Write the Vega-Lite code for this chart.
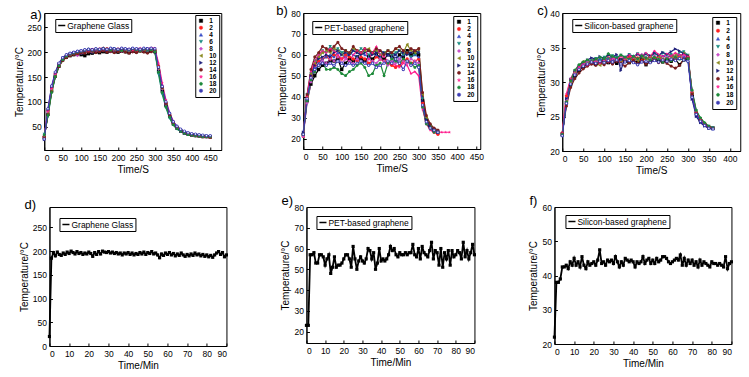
{
"$schema":"https://vega.github.io/schema/vega-lite/v6.json",
"background":"white",
"padding":{"left":13,"top":4,"right":2,"bottom":2},
"config":{
"font":"Liberation Sans",
"view":{"stroke":"black","strokeWidth":1},
"axis":{"grid":false,"domainColor":"black","tickColor":"black","tickSize":-3,"labelPadding":6,"labelFontSize":8.5,"labelColor":"black","titleFontSize":10,"titleFontWeight":"normal","titleColor":"black","labelOverlap":false,"titlePadding":3},
"legend":{"strokeColor":"black","fillColor":"white","labelColor":"black"},
"title":{"fontSize":13,"fontWeight":"normal","anchor":"start","color":"black","frame":"group"}
},
"datasets":{
"a":[
{"s":1,"t":0,"v":28},{"s":1,"t":10,"v":75},{"s":1,"t":20,"v":122},{"s":1,"t":30,"v":152},{"s":1,"t":40,"v":172},{"s":1,"t":50,"v":185},{"s":1,"t":60,"v":190},{"s":1,"t":70,"v":193},{"s":1,"t":80,"v":195},{"s":1,"t":90,"v":196},{"s":1,"t":100,"v":195},{"s":1,"t":110,"v":193},{"s":1,"t":120,"v":197},{"s":1,"t":130,"v":198},{"s":1,"t":140,"v":200},{"s":1,"t":150,"v":199},{"s":1,"t":160,"v":201},{"s":1,"t":170,"v":200},{"s":1,"t":180,"v":202},{"s":1,"t":190,"v":201},{"s":1,"t":200,"v":200},{"s":1,"t":210,"v":202},{"s":1,"t":220,"v":201},{"s":1,"t":230,"v":199},{"s":1,"t":240,"v":202},{"s":1,"t":250,"v":201},{"s":1,"t":260,"v":203},{"s":1,"t":270,"v":202},{"s":1,"t":280,"v":201},{"s":1,"t":290,"v":203},{"s":1,"t":300,"v":201},{"s":1,"t":310,"v":162},{"s":1,"t":320,"v":122},{"s":1,"t":330,"v":93},{"s":1,"t":340,"v":71},{"s":1,"t":350,"v":56},{"s":1,"t":360,"v":47},{"s":1,"t":370,"v":41},{"s":1,"t":380,"v":37},{"s":1,"t":390,"v":35},{"s":1,"t":400,"v":33},{"s":1,"t":410,"v":32},{"s":1,"t":420,"v":31},{"s":1,"t":430,"v":30},{"s":1,"t":440,"v":30},{"s":1,"t":450,"v":29},
{"s":2,"t":0,"v":30},{"s":2,"t":10,"v":82},{"s":2,"t":20,"v":128},{"s":2,"t":30,"v":157},{"s":2,"t":40,"v":176},{"s":2,"t":50,"v":187},{"s":2,"t":60,"v":193},{"s":2,"t":70,"v":196},{"s":2,"t":80,"v":199},{"s":2,"t":90,"v":197},{"s":2,"t":100,"v":201},{"s":2,"t":110,"v":203},{"s":2,"t":120,"v":202},{"s":2,"t":130,"v":205},{"s":2,"t":140,"v":203},{"s":2,"t":150,"v":206},{"s":2,"t":160,"v":204},{"s":2,"t":170,"v":207},{"s":2,"t":180,"v":203},{"s":2,"t":190,"v":205},{"s":2,"t":200,"v":206},{"s":2,"t":210,"v":203},{"s":2,"t":220,"v":205},{"s":2,"t":230,"v":204},{"s":2,"t":240,"v":206},{"s":2,"t":250,"v":203},{"s":2,"t":260,"v":205},{"s":2,"t":270,"v":204},{"s":2,"t":280,"v":206},{"s":2,"t":290,"v":207},{"s":2,"t":300,"v":205},{"s":2,"t":310,"v":172},{"s":2,"t":320,"v":130},{"s":2,"t":330,"v":98},{"s":2,"t":340,"v":74},{"s":2,"t":350,"v":58},{"s":2,"t":360,"v":48},{"s":2,"t":370,"v":42},{"s":2,"t":380,"v":38},{"s":2,"t":390,"v":35},{"s":2,"t":400,"v":33},{"s":2,"t":410,"v":32},{"s":2,"t":420,"v":31},{"s":2,"t":430,"v":30},{"s":2,"t":440,"v":30},{"s":2,"t":450,"v":29},
{"s":4,"t":0,"v":26},{"s":4,"t":10,"v":78},{"s":4,"t":20,"v":124},{"s":4,"t":30,"v":154},{"s":4,"t":40,"v":174},{"s":4,"t":50,"v":186},{"s":4,"t":60,"v":192},{"s":4,"t":70,"v":196},{"s":4,"t":80,"v":198},{"s":4,"t":90,"v":200},{"s":4,"t":100,"v":199},{"s":4,"t":110,"v":202},{"s":4,"t":120,"v":203},{"s":4,"t":130,"v":201},{"s":4,"t":140,"v":204},{"s":4,"t":150,"v":203},{"s":4,"t":160,"v":205},{"s":4,"t":170,"v":204},{"s":4,"t":180,"v":206},{"s":4,"t":190,"v":203},{"s":4,"t":200,"v":205},{"s":4,"t":210,"v":204},{"s":4,"t":220,"v":203},{"s":4,"t":230,"v":205},{"s":4,"t":240,"v":204},{"s":4,"t":250,"v":206},{"s":4,"t":260,"v":204},{"s":4,"t":270,"v":205},{"s":4,"t":280,"v":203},{"s":4,"t":290,"v":206},{"s":4,"t":300,"v":204},{"s":4,"t":310,"v":163},{"s":4,"t":320,"v":121},{"s":4,"t":330,"v":92},{"s":4,"t":340,"v":70},{"s":4,"t":350,"v":55},{"s":4,"t":360,"v":46},{"s":4,"t":370,"v":41},{"s":4,"t":380,"v":37},{"s":4,"t":390,"v":35},{"s":4,"t":400,"v":33},{"s":4,"t":410,"v":32},{"s":4,"t":420,"v":31},{"s":4,"t":430,"v":31},{"s":4,"t":440,"v":30},{"s":4,"t":450,"v":30},
{"s":6,"t":0,"v":35},{"s":6,"t":10,"v":70},{"s":6,"t":20,"v":118},{"s":6,"t":30,"v":150},{"s":6,"t":40,"v":172},{"s":6,"t":50,"v":184},{"s":6,"t":60,"v":191},{"s":6,"t":70,"v":195},{"s":6,"t":80,"v":197},{"s":6,"t":90,"v":199},{"s":6,"t":100,"v":200},{"s":6,"t":110,"v":201},{"s":6,"t":120,"v":203},{"s":6,"t":130,"v":202},{"s":6,"t":140,"v":204},{"s":6,"t":150,"v":202},{"s":6,"t":160,"v":205},{"s":6,"t":170,"v":203},{"s":6,"t":180,"v":204},{"s":6,"t":190,"v":206},{"s":6,"t":200,"v":203},{"s":6,"t":210,"v":205},{"s":6,"t":220,"v":204},{"s":6,"t":230,"v":202},{"s":6,"t":240,"v":205},{"s":6,"t":250,"v":203},{"s":6,"t":260,"v":204},{"s":6,"t":270,"v":206},{"s":6,"t":280,"v":203},{"s":6,"t":290,"v":205},{"s":6,"t":300,"v":200},{"s":6,"t":310,"v":155},{"s":6,"t":320,"v":115},{"s":6,"t":330,"v":88},{"s":6,"t":340,"v":67},{"s":6,"t":350,"v":53},{"s":6,"t":360,"v":45},{"s":6,"t":370,"v":40},{"s":6,"t":380,"v":36},{"s":6,"t":390,"v":34},{"s":6,"t":400,"v":32},{"s":6,"t":410,"v":31},{"s":6,"t":420,"v":30},{"s":6,"t":430,"v":30},{"s":6,"t":440,"v":29},{"s":6,"t":450,"v":29},
{"s":8,"t":0,"v":32},{"s":8,"t":10,"v":79},{"s":8,"t":20,"v":125},{"s":8,"t":30,"v":155},{"s":8,"t":40,"v":175},{"s":8,"t":50,"v":186},{"s":8,"t":60,"v":191},{"s":8,"t":70,"v":194},{"s":8,"t":80,"v":196},{"s":8,"t":90,"v":193},{"s":8,"t":100,"v":198},{"s":8,"t":110,"v":200},{"s":8,"t":120,"v":202},{"s":8,"t":130,"v":201},{"s":8,"t":140,"v":203},{"s":8,"t":150,"v":202},{"s":8,"t":160,"v":204},{"s":8,"t":170,"v":203},{"s":8,"t":180,"v":201},{"s":8,"t":190,"v":204},{"s":8,"t":200,"v":203},{"s":8,"t":210,"v":202},{"s":8,"t":220,"v":204},{"s":8,"t":230,"v":203},{"s":8,"t":240,"v":201},{"s":8,"t":250,"v":204},{"s":8,"t":260,"v":203},{"s":8,"t":270,"v":202},{"s":8,"t":280,"v":204},{"s":8,"t":290,"v":203},{"s":8,"t":300,"v":202},{"s":8,"t":310,"v":166},{"s":8,"t":320,"v":126},{"s":8,"t":330,"v":95},{"s":8,"t":340,"v":72},{"s":8,"t":350,"v":57},{"s":8,"t":360,"v":47},{"s":8,"t":370,"v":42},{"s":8,"t":380,"v":38},{"s":8,"t":390,"v":35},{"s":8,"t":400,"v":33},{"s":8,"t":410,"v":32},{"s":8,"t":420,"v":31},{"s":8,"t":430,"v":30},{"s":8,"t":440,"v":30},{"s":8,"t":450,"v":30},
{"s":10,"t":0,"v":27},{"s":10,"t":10,"v":77},{"s":10,"t":20,"v":123},{"s":10,"t":30,"v":153},{"s":10,"t":40,"v":174},{"s":10,"t":50,"v":185},{"s":10,"t":60,"v":192},{"s":10,"t":70,"v":195},{"s":10,"t":80,"v":197},{"s":10,"t":90,"v":199},{"s":10,"t":100,"v":201},{"s":10,"t":110,"v":203},{"s":10,"t":120,"v":204},{"s":10,"t":130,"v":202},{"s":10,"t":140,"v":205},{"s":10,"t":150,"v":204},{"s":10,"t":160,"v":206},{"s":10,"t":170,"v":205},{"s":10,"t":180,"v":203},{"s":10,"t":190,"v":205},{"s":10,"t":200,"v":204},{"s":10,"t":210,"v":206},{"s":10,"t":220,"v":203},{"s":10,"t":230,"v":205},{"s":10,"t":240,"v":204},{"s":10,"t":250,"v":206},{"s":10,"t":260,"v":205},{"s":10,"t":270,"v":203},{"s":10,"t":280,"v":205},{"s":10,"t":290,"v":204},{"s":10,"t":300,"v":203},{"s":10,"t":310,"v":167},{"s":10,"t":320,"v":127},{"s":10,"t":330,"v":96},{"s":10,"t":340,"v":73},{"s":10,"t":350,"v":57},{"s":10,"t":360,"v":48},{"s":10,"t":370,"v":42},{"s":10,"t":380,"v":38},{"s":10,"t":390,"v":36},{"s":10,"t":400,"v":34},{"s":10,"t":410,"v":32},{"s":10,"t":420,"v":31},{"s":10,"t":430,"v":31},{"s":10,"t":440,"v":30},{"s":10,"t":450,"v":30},
{"s":12,"t":0,"v":24},{"s":12,"t":10,"v":84},{"s":12,"t":20,"v":130},{"s":12,"t":30,"v":158},{"s":12,"t":40,"v":177},{"s":12,"t":50,"v":188},{"s":12,"t":60,"v":193},{"s":12,"t":70,"v":197},{"s":12,"t":80,"v":199},{"s":12,"t":90,"v":201},{"s":12,"t":100,"v":202},{"s":12,"t":110,"v":201},{"s":12,"t":120,"v":204},{"s":12,"t":130,"v":205},{"s":12,"t":140,"v":203},{"s":12,"t":150,"v":205},{"s":12,"t":160,"v":206},{"s":12,"t":170,"v":204},{"s":12,"t":180,"v":205},{"s":12,"t":190,"v":207},{"s":12,"t":200,"v":205},{"s":12,"t":210,"v":204},{"s":12,"t":220,"v":206},{"s":12,"t":230,"v":205},{"s":12,"t":240,"v":207},{"s":12,"t":250,"v":205},{"s":12,"t":260,"v":206},{"s":12,"t":270,"v":205},{"s":12,"t":280,"v":207},{"s":12,"t":290,"v":206},{"s":12,"t":300,"v":205},{"s":12,"t":310,"v":168},{"s":12,"t":320,"v":128},{"s":12,"t":330,"v":97},{"s":12,"t":340,"v":74},{"s":12,"t":350,"v":58},{"s":12,"t":360,"v":49},{"s":12,"t":370,"v":43},{"s":12,"t":380,"v":39},{"s":12,"t":390,"v":36},{"s":12,"t":400,"v":34},{"s":12,"t":410,"v":33},{"s":12,"t":420,"v":32},{"s":12,"t":430,"v":31},{"s":12,"t":440,"v":31},{"s":12,"t":450,"v":30},
{"s":14,"t":0,"v":29},{"s":14,"t":10,"v":74},{"s":14,"t":20,"v":120},{"s":14,"t":30,"v":151},{"s":14,"t":40,"v":171},{"s":14,"t":50,"v":183},{"s":14,"t":60,"v":189},{"s":14,"t":70,"v":193},{"s":14,"t":80,"v":195},{"s":14,"t":90,"v":197},{"s":14,"t":100,"v":199},{"s":14,"t":110,"v":198},{"s":14,"t":120,"v":200},{"s":14,"t":130,"v":202},{"s":14,"t":140,"v":199},{"s":14,"t":150,"v":201},{"s":14,"t":160,"v":203},{"s":14,"t":170,"v":200},{"s":14,"t":180,"v":202},{"s":14,"t":190,"v":199},{"s":14,"t":200,"v":201},{"s":14,"t":210,"v":203},{"s":14,"t":220,"v":200},{"s":14,"t":230,"v":198},{"s":14,"t":240,"v":201},{"s":14,"t":250,"v":199},{"s":14,"t":260,"v":202},{"s":14,"t":270,"v":200},{"s":14,"t":280,"v":198},{"s":14,"t":290,"v":201},{"s":14,"t":300,"v":202},{"s":14,"t":310,"v":170},{"s":14,"t":320,"v":129},{"s":14,"t":330,"v":97},{"s":14,"t":340,"v":73},{"s":14,"t":350,"v":57},{"s":14,"t":360,"v":48},{"s":14,"t":370,"v":42},{"s":14,"t":380,"v":38},{"s":14,"t":390,"v":35},{"s":14,"t":400,"v":33},{"s":14,"t":410,"v":32},{"s":14,"t":420,"v":31},{"s":14,"t":430,"v":30},{"s":14,"t":440,"v":30},{"s":14,"t":450,"v":29},
{"s":16,"t":0,"v":31},{"s":16,"t":10,"v":81},{"s":16,"t":20,"v":127},{"s":16,"t":30,"v":156},{"s":16,"t":40,"v":176},{"s":16,"t":50,"v":186},{"s":16,"t":60,"v":192},{"s":16,"t":70,"v":195},{"s":16,"t":80,"v":198},{"s":16,"t":90,"v":200},{"s":16,"t":100,"v":202},{"s":16,"t":110,"v":204},{"s":16,"t":120,"v":203},{"s":16,"t":130,"v":206},{"s":16,"t":140,"v":204},{"s":16,"t":150,"v":207},{"s":16,"t":160,"v":209},{"s":16,"t":170,"v":205},{"s":16,"t":180,"v":207},{"s":16,"t":190,"v":204},{"s":16,"t":200,"v":206},{"s":16,"t":210,"v":208},{"s":16,"t":220,"v":205},{"s":16,"t":230,"v":207},{"s":16,"t":240,"v":204},{"s":16,"t":250,"v":206},{"s":16,"t":260,"v":208},{"s":16,"t":270,"v":205},{"s":16,"t":280,"v":207},{"s":16,"t":290,"v":209},{"s":16,"t":300,"v":208},{"s":16,"t":310,"v":178},{"s":16,"t":320,"v":138},{"s":16,"t":330,"v":104},{"s":16,"t":340,"v":78},{"s":16,"t":350,"v":61},{"s":16,"t":360,"v":50},{"s":16,"t":370,"v":44},{"s":16,"t":380,"v":39},{"s":16,"t":390,"v":36},{"s":16,"t":400,"v":34},{"s":16,"t":410,"v":32},{"s":16,"t":420,"v":31},{"s":16,"t":430,"v":30},{"s":16,"t":440,"v":29},{"s":16,"t":450,"v":29},
{"s":18,"t":0,"v":33},{"s":18,"t":10,"v":73},{"s":18,"t":20,"v":119},{"s":18,"t":30,"v":151},{"s":18,"t":40,"v":173},{"s":18,"t":50,"v":185},{"s":18,"t":60,"v":192},{"s":18,"t":70,"v":196},{"s":18,"t":80,"v":198},{"s":18,"t":90,"v":200},{"s":18,"t":100,"v":202},{"s":18,"t":110,"v":204},{"s":18,"t":120,"v":206},{"s":18,"t":130,"v":204},{"s":18,"t":140,"v":206},{"s":18,"t":150,"v":205},{"s":18,"t":160,"v":208},{"s":18,"t":170,"v":206},{"s":18,"t":180,"v":204},{"s":18,"t":190,"v":206},{"s":18,"t":200,"v":205},{"s":18,"t":210,"v":203},{"s":18,"t":220,"v":206},{"s":18,"t":230,"v":204},{"s":18,"t":240,"v":207},{"s":18,"t":250,"v":205},{"s":18,"t":260,"v":203},{"s":18,"t":270,"v":206},{"s":18,"t":280,"v":204},{"s":18,"t":290,"v":205},{"s":18,"t":300,"v":201},{"s":18,"t":310,"v":160},{"s":18,"t":320,"v":119},{"s":18,"t":330,"v":90},{"s":18,"t":340,"v":69},{"s":18,"t":350,"v":54},{"s":18,"t":360,"v":46},{"s":18,"t":370,"v":41},{"s":18,"t":380,"v":37},{"s":18,"t":390,"v":34},{"s":18,"t":400,"v":33},{"s":18,"t":410,"v":32},{"s":18,"t":420,"v":31},{"s":18,"t":430,"v":30},{"s":18,"t":440,"v":30},{"s":18,"t":450,"v":30},
{"s":20,"t":0,"v":25},{"s":20,"t":10,"v":86},{"s":20,"t":20,"v":132},{"s":20,"t":30,"v":160},{"s":20,"t":40,"v":178},{"s":20,"t":50,"v":189},{"s":20,"t":60,"v":195},{"s":20,"t":70,"v":198},{"s":20,"t":80,"v":200},{"s":20,"t":90,"v":202},{"s":20,"t":100,"v":203},{"s":20,"t":110,"v":205},{"s":20,"t":120,"v":206},{"s":20,"t":130,"v":205},{"s":20,"t":140,"v":207},{"s":20,"t":150,"v":206},{"s":20,"t":160,"v":207},{"s":20,"t":170,"v":206},{"s":20,"t":180,"v":208},{"s":20,"t":190,"v":207},{"s":20,"t":200,"v":206},{"s":20,"t":210,"v":208},{"s":20,"t":220,"v":207},{"s":20,"t":230,"v":206},{"s":20,"t":240,"v":208},{"s":20,"t":250,"v":207},{"s":20,"t":260,"v":206},{"s":20,"t":270,"v":208},{"s":20,"t":280,"v":207},{"s":20,"t":290,"v":208},{"s":20,"t":300,"v":207},{"s":20,"t":310,"v":170},{"s":20,"t":320,"v":131},{"s":20,"t":330,"v":100},{"s":20,"t":340,"v":77},{"s":20,"t":350,"v":60},{"s":20,"t":360,"v":51},{"s":20,"t":370,"v":45},{"s":20,"t":380,"v":41},{"s":20,"t":390,"v":38},{"s":20,"t":400,"v":36},{"s":20,"t":410,"v":35},{"s":20,"t":420,"v":34},{"s":20,"t":430,"v":33},{"s":20,"t":440,"v":32},{"s":20,"t":450,"v":32}
],
"b":[
{"s":1,"t":0,"v":22},{"s":1,"t":10,"v":38},{"s":1,"t":20,"v":46},{"s":1,"t":30,"v":50},{"s":1,"t":40,"v":53},{"s":1,"t":50,"v":55},{"s":1,"t":60,"v":56},{"s":1,"t":70,"v":57},{"s":1,"t":80,"v":57},{"s":1,"t":90,"v":58},{"s":1,"t":100,"v":53},{"s":1,"t":110,"v":56},{"s":1,"t":120,"v":58},{"s":1,"t":130,"v":57},{"s":1,"t":140,"v":59},{"s":1,"t":150,"v":58},{"s":1,"t":160,"v":57},{"s":1,"t":170,"v":59},{"s":1,"t":180,"v":58},{"s":1,"t":190,"v":60},{"s":1,"t":200,"v":59},{"s":1,"t":210,"v":58},{"s":1,"t":220,"v":60},{"s":1,"t":230,"v":59},{"s":1,"t":240,"v":58},{"s":1,"t":250,"v":60},{"s":1,"t":260,"v":59},{"s":1,"t":270,"v":62},{"s":1,"t":280,"v":60},{"s":1,"t":290,"v":61},{"s":1,"t":300,"v":60},{"s":1,"t":310,"v":38},{"s":1,"t":320,"v":29},{"s":1,"t":330,"v":26},{"s":1,"t":340,"v":24},{"s":1,"t":350,"v":23},
{"s":2,"t":0,"v":21},{"s":2,"t":10,"v":40},{"s":2,"t":20,"v":50},{"s":2,"t":30,"v":55},{"s":2,"t":40,"v":57},{"s":2,"t":50,"v":58},{"s":2,"t":60,"v":59},{"s":2,"t":70,"v":58},{"s":2,"t":80,"v":60},{"s":2,"t":90,"v":59},{"s":2,"t":100,"v":58},{"s":2,"t":110,"v":60},{"s":2,"t":120,"v":59},{"s":2,"t":130,"v":58},{"s":2,"t":140,"v":57},{"s":2,"t":150,"v":59},{"s":2,"t":160,"v":58},{"s":2,"t":170,"v":56},{"s":2,"t":180,"v":57},{"s":2,"t":190,"v":59},{"s":2,"t":200,"v":58},{"s":2,"t":210,"v":57},{"s":2,"t":220,"v":56},{"s":2,"t":230,"v":55},{"s":2,"t":240,"v":54},{"s":2,"t":250,"v":55},{"s":2,"t":260,"v":57},{"s":2,"t":270,"v":58},{"s":2,"t":280,"v":56},{"s":2,"t":290,"v":57},{"s":2,"t":300,"v":58},{"s":2,"t":310,"v":37},{"s":2,"t":320,"v":28},{"s":2,"t":330,"v":25},{"s":2,"t":340,"v":23},{"s":2,"t":350,"v":22},
{"s":4,"t":0,"v":23},{"s":4,"t":10,"v":39},{"s":4,"t":20,"v":49},{"s":4,"t":30,"v":54},{"s":4,"t":40,"v":56},{"s":4,"t":50,"v":58},{"s":4,"t":60,"v":59},{"s":4,"t":70,"v":60},{"s":4,"t":80,"v":59},{"s":4,"t":90,"v":61},{"s":4,"t":100,"v":60},{"s":4,"t":110,"v":59},{"s":4,"t":120,"v":61},{"s":4,"t":130,"v":60},{"s":4,"t":140,"v":59},{"s":4,"t":150,"v":61},{"s":4,"t":160,"v":60},{"s":4,"t":170,"v":59},{"s":4,"t":180,"v":61},{"s":4,"t":190,"v":60},{"s":4,"t":200,"v":59},{"s":4,"t":210,"v":61},{"s":4,"t":220,"v":60},{"s":4,"t":230,"v":59},{"s":4,"t":240,"v":60},{"s":4,"t":250,"v":58},{"s":4,"t":260,"v":60},{"s":4,"t":270,"v":61},{"s":4,"t":280,"v":59},{"s":4,"t":290,"v":60},{"s":4,"t":300,"v":59},{"s":4,"t":310,"v":36},{"s":4,"t":320,"v":28},{"s":4,"t":330,"v":25},{"s":4,"t":340,"v":24},{"s":4,"t":350,"v":23},
{"s":6,"t":0,"v":22},{"s":6,"t":10,"v":41},{"s":6,"t":20,"v":51},{"s":6,"t":30,"v":57},{"s":6,"t":40,"v":60},{"s":6,"t":50,"v":62},{"s":6,"t":60,"v":61},{"s":6,"t":70,"v":64},{"s":6,"t":80,"v":62},{"s":6,"t":90,"v":63},{"s":6,"t":100,"v":61},{"s":6,"t":110,"v":62},{"s":6,"t":120,"v":60},{"s":6,"t":130,"v":62},{"s":6,"t":140,"v":61},{"s":6,"t":150,"v":63},{"s":6,"t":160,"v":62},{"s":6,"t":170,"v":60},{"s":6,"t":180,"v":61},{"s":6,"t":190,"v":62},{"s":6,"t":200,"v":60},{"s":6,"t":210,"v":61},{"s":6,"t":220,"v":62},{"s":6,"t":230,"v":60},{"s":6,"t":240,"v":61},{"s":6,"t":250,"v":62},{"s":6,"t":260,"v":60},{"s":6,"t":270,"v":61},{"s":6,"t":280,"v":59},{"s":6,"t":290,"v":60},{"s":6,"t":300,"v":61},{"s":6,"t":310,"v":39},{"s":6,"t":320,"v":29},{"s":6,"t":330,"v":26},{"s":6,"t":340,"v":24},{"s":6,"t":350,"v":23},
{"s":8,"t":0,"v":21},{"s":8,"t":10,"v":37},{"s":8,"t":20,"v":47},{"s":8,"t":30,"v":52},{"s":8,"t":40,"v":55},{"s":8,"t":50,"v":57},{"s":8,"t":60,"v":56},{"s":8,"t":70,"v":58},{"s":8,"t":80,"v":57},{"s":8,"t":90,"v":59},{"s":8,"t":100,"v":56},{"s":8,"t":110,"v":58},{"s":8,"t":120,"v":57},{"s":8,"t":130,"v":56},{"s":8,"t":140,"v":58},{"s":8,"t":150,"v":57},{"s":8,"t":160,"v":56},{"s":8,"t":170,"v":58},{"s":8,"t":180,"v":57},{"s":8,"t":190,"v":56},{"s":8,"t":200,"v":58},{"s":8,"t":210,"v":57},{"s":8,"t":220,"v":55},{"s":8,"t":230,"v":57},{"s":8,"t":240,"v":56},{"s":8,"t":250,"v":58},{"s":8,"t":260,"v":57},{"s":8,"t":270,"v":56},{"s":8,"t":280,"v":58},{"s":8,"t":290,"v":57},{"s":8,"t":300,"v":56},{"s":8,"t":310,"v":35},{"s":8,"t":320,"v":27},{"s":8,"t":330,"v":25},{"s":8,"t":340,"v":23},{"s":8,"t":350,"v":23},
{"s":10,"t":0,"v":22},{"s":10,"t":10,"v":40},{"s":10,"t":20,"v":51},{"s":10,"t":30,"v":56},{"s":10,"t":40,"v":59},{"s":10,"t":50,"v":61},{"s":10,"t":60,"v":62},{"s":10,"t":70,"v":61},{"s":10,"t":80,"v":63},{"s":10,"t":90,"v":62},{"s":10,"t":100,"v":60},{"s":10,"t":110,"v":62},{"s":10,"t":120,"v":61},{"s":10,"t":130,"v":63},{"s":10,"t":140,"v":62},{"s":10,"t":150,"v":61},{"s":10,"t":160,"v":62},{"s":10,"t":170,"v":63},{"s":10,"t":180,"v":61},{"s":10,"t":190,"v":62},{"s":10,"t":200,"v":60},{"s":10,"t":210,"v":61},{"s":10,"t":220,"v":62},{"s":10,"t":230,"v":61},{"s":10,"t":240,"v":63},{"s":10,"t":250,"v":62},{"s":10,"t":260,"v":61},{"s":10,"t":270,"v":65},{"s":10,"t":280,"v":62},{"s":10,"t":290,"v":61},{"s":10,"t":300,"v":63},{"s":10,"t":310,"v":41},{"s":10,"t":320,"v":30},{"s":10,"t":330,"v":26},{"s":10,"t":340,"v":24},{"s":10,"t":350,"v":23},
{"s":12,"t":0,"v":23},{"s":12,"t":10,"v":39},{"s":12,"t":20,"v":50},{"s":12,"t":30,"v":55},{"s":12,"t":40,"v":58},{"s":12,"t":50,"v":59},{"s":12,"t":60,"v":60},{"s":12,"t":70,"v":59},{"s":12,"t":80,"v":61},{"s":12,"t":90,"v":62},{"s":12,"t":100,"v":60},{"s":12,"t":110,"v":61},{"s":12,"t":120,"v":60},{"s":12,"t":130,"v":62},{"s":12,"t":140,"v":61},{"s":12,"t":150,"v":60},{"s":12,"t":160,"v":61},{"s":12,"t":170,"v":62},{"s":12,"t":180,"v":60},{"s":12,"t":190,"v":61},{"s":12,"t":200,"v":62},{"s":12,"t":210,"v":61},{"s":12,"t":220,"v":60},{"s":12,"t":230,"v":61},{"s":12,"t":240,"v":60},{"s":12,"t":250,"v":62},{"s":12,"t":260,"v":61},{"s":12,"t":270,"v":60},{"s":12,"t":280,"v":61},{"s":12,"t":290,"v":62},{"s":12,"t":300,"v":61},{"s":12,"t":310,"v":38},{"s":12,"t":320,"v":29},{"s":12,"t":330,"v":26},{"s":12,"t":340,"v":24},{"s":12,"t":350,"v":23},
{"s":14,"t":0,"v":22},{"s":14,"t":10,"v":41},{"s":14,"t":20,"v":53},{"s":14,"t":30,"v":59},{"s":14,"t":40,"v":61},{"s":14,"t":50,"v":64},{"s":14,"t":60,"v":63},{"s":14,"t":70,"v":62},{"s":14,"t":80,"v":64},{"s":14,"t":90,"v":66},{"s":14,"t":100,"v":63},{"s":14,"t":110,"v":62},{"s":14,"t":120,"v":61},{"s":14,"t":130,"v":64},{"s":14,"t":140,"v":62},{"s":14,"t":150,"v":61},{"s":14,"t":160,"v":63},{"s":14,"t":170,"v":62},{"s":14,"t":180,"v":61},{"s":14,"t":190,"v":63},{"s":14,"t":200,"v":62},{"s":14,"t":210,"v":60},{"s":14,"t":220,"v":62},{"s":14,"t":230,"v":61},{"s":14,"t":240,"v":63},{"s":14,"t":250,"v":64},{"s":14,"t":260,"v":62},{"s":14,"t":270,"v":61},{"s":14,"t":280,"v":63},{"s":14,"t":290,"v":62},{"s":14,"t":300,"v":63},{"s":14,"t":310,"v":42},{"s":14,"t":320,"v":31},{"s":14,"t":330,"v":27},{"s":14,"t":340,"v":25},{"s":14,"t":350,"v":24},
{"s":16,"t":0,"v":22},{"s":16,"t":10,"v":40},{"s":16,"t":20,"v":52},{"s":16,"t":30,"v":57},{"s":16,"t":40,"v":60},{"s":16,"t":50,"v":62},{"s":16,"t":60,"v":61},{"s":16,"t":70,"v":63},{"s":16,"t":80,"v":62},{"s":16,"t":90,"v":60},{"s":16,"t":100,"v":58},{"s":16,"t":110,"v":59},{"s":16,"t":120,"v":57},{"s":16,"t":130,"v":60},{"s":16,"t":140,"v":62},{"s":16,"t":150,"v":61},{"s":16,"t":160,"v":63},{"s":16,"t":170,"v":58},{"s":16,"t":180,"v":61},{"s":16,"t":190,"v":64},{"s":16,"t":200,"v":60},{"s":16,"t":210,"v":59},{"s":16,"t":220,"v":57},{"s":16,"t":230,"v":56},{"s":16,"t":240,"v":55},{"s":16,"t":250,"v":54},{"s":16,"t":260,"v":56},{"s":16,"t":270,"v":55},{"s":16,"t":280,"v":51},{"s":16,"t":290,"v":52},{"s":16,"t":300,"v":50},{"s":16,"t":310,"v":34},{"s":16,"t":320,"v":27},{"s":16,"t":330,"v":24},{"s":16,"t":340,"v":23},{"s":16,"t":350,"v":23},{"s":16,"t":360,"v":23},{"s":16,"t":370,"v":23},{"s":16,"t":380,"v":23},
{"s":18,"t":0,"v":22},{"s":18,"t":10,"v":38},{"s":18,"t":20,"v":48},{"s":18,"t":30,"v":52},{"s":18,"t":40,"v":55},{"s":18,"t":50,"v":56},{"s":18,"t":60,"v":53},{"s":18,"t":70,"v":53},{"s":18,"t":80,"v":54},{"s":18,"t":90,"v":53},{"s":18,"t":100,"v":51},{"s":18,"t":110,"v":50},{"s":18,"t":120,"v":52},{"s":18,"t":130,"v":53},{"s":18,"t":140,"v":55},{"s":18,"t":150,"v":56},{"s":18,"t":160,"v":54},{"s":18,"t":170,"v":50},{"s":18,"t":180,"v":51},{"s":18,"t":190,"v":55},{"s":18,"t":200,"v":56},{"s":18,"t":210,"v":50},{"s":18,"t":220,"v":56},{"s":18,"t":230,"v":58},{"s":18,"t":240,"v":57},{"s":18,"t":250,"v":56},{"s":18,"t":260,"v":58},{"s":18,"t":270,"v":57},{"s":18,"t":280,"v":56},{"s":18,"t":290,"v":54},{"s":18,"t":300,"v":55},{"s":18,"t":310,"v":35},{"s":18,"t":320,"v":27},{"s":18,"t":330,"v":25},{"s":18,"t":340,"v":23},{"s":18,"t":350,"v":23},
{"s":20,"t":0,"v":22},{"s":20,"t":10,"v":39},{"s":20,"t":20,"v":49},{"s":20,"t":30,"v":53},{"s":20,"t":40,"v":55},{"s":20,"t":50,"v":56},{"s":20,"t":60,"v":55},{"s":20,"t":70,"v":56},{"s":20,"t":80,"v":55},{"s":20,"t":90,"v":57},{"s":20,"t":100,"v":56},{"s":20,"t":110,"v":55},{"s":20,"t":120,"v":56},{"s":20,"t":130,"v":55},{"s":20,"t":140,"v":56},{"s":20,"t":150,"v":57},{"s":20,"t":160,"v":56},{"s":20,"t":170,"v":55},{"s":20,"t":180,"v":56},{"s":20,"t":190,"v":54},{"s":20,"t":200,"v":55},{"s":20,"t":210,"v":56},{"s":20,"t":220,"v":57},{"s":20,"t":230,"v":56},{"s":20,"t":240,"v":58},{"s":20,"t":250,"v":56},{"s":20,"t":260,"v":53},{"s":20,"t":270,"v":57},{"s":20,"t":280,"v":55},{"s":20,"t":290,"v":56},{"s":20,"t":300,"v":54},{"s":20,"t":310,"v":36},{"s":20,"t":320,"v":28},{"s":20,"t":330,"v":25},{"s":20,"t":340,"v":24},{"s":20,"t":350,"v":23}
],
"c":[
{"s":1,"t":0,"v":22.4},{"s":1,"t":10,"v":27.0},{"s":1,"t":20,"v":29.6},{"s":1,"t":30,"v":30.9},{"s":1,"t":40,"v":31.7},{"s":1,"t":50,"v":32.2},{"s":1,"t":60,"v":32.5},{"s":1,"t":70,"v":32.8},{"s":1,"t":80,"v":32.6},{"s":1,"t":90,"v":32.9},{"s":1,"t":100,"v":33.1},{"s":1,"t":110,"v":32.8},{"s":1,"t":120,"v":33.0},{"s":1,"t":130,"v":32.7},{"s":1,"t":140,"v":33.2},{"s":1,"t":150,"v":33.0},{"s":1,"t":160,"v":32.8},{"s":1,"t":170,"v":33.1},{"s":1,"t":180,"v":32.9},{"s":1,"t":190,"v":33.2},{"s":1,"t":200,"v":32.5},{"s":1,"t":210,"v":33.0},{"s":1,"t":220,"v":33.3},{"s":1,"t":230,"v":33.1},{"s":1,"t":240,"v":32.9},{"s":1,"t":250,"v":33.2},{"s":1,"t":260,"v":33.0},{"s":1,"t":270,"v":33.3},{"s":1,"t":280,"v":32.5},{"s":1,"t":290,"v":33.2},{"s":1,"t":300,"v":33.4},{"s":1,"t":310,"v":28.1},{"s":1,"t":320,"v":25.4},{"s":1,"t":330,"v":24.4},{"s":1,"t":340,"v":23.8},{"s":1,"t":350,"v":23.4},{"s":1,"t":360,"v":23.3},
{"s":2,"t":0,"v":22.6},{"s":2,"t":10,"v":28.0},{"s":2,"t":20,"v":30.3},{"s":2,"t":30,"v":31.4},{"s":2,"t":40,"v":32.0},{"s":2,"t":50,"v":32.4},{"s":2,"t":60,"v":32.8},{"s":2,"t":70,"v":33.0},{"s":2,"t":80,"v":33.3},{"s":2,"t":90,"v":32.9},{"s":2,"t":100,"v":33.2},{"s":2,"t":110,"v":33.5},{"s":2,"t":120,"v":33.1},{"s":2,"t":130,"v":33.4},{"s":2,"t":140,"v":33.0},{"s":2,"t":150,"v":33.3},{"s":2,"t":160,"v":33.6},{"s":2,"t":170,"v":33.2},{"s":2,"t":180,"v":33.5},{"s":2,"t":190,"v":33.1},{"s":2,"t":200,"v":33.4},{"s":2,"t":210,"v":33.7},{"s":2,"t":220,"v":33.3},{"s":2,"t":230,"v":33.6},{"s":2,"t":240,"v":33.2},{"s":2,"t":250,"v":33.5},{"s":2,"t":260,"v":33.8},{"s":2,"t":270,"v":33.4},{"s":2,"t":280,"v":33.7},{"s":2,"t":290,"v":33.5},{"s":2,"t":300,"v":33.6},{"s":2,"t":310,"v":28.5},{"s":2,"t":320,"v":25.6},{"s":2,"t":330,"v":24.5},{"s":2,"t":340,"v":23.9},{"s":2,"t":350,"v":23.5},{"s":2,"t":360,"v":23.3},
{"s":4,"t":0,"v":22.3},{"s":4,"t":10,"v":27.3},{"s":4,"t":20,"v":29.9},{"s":4,"t":30,"v":31.2},{"s":4,"t":40,"v":32.1},{"s":4,"t":50,"v":32.5},{"s":4,"t":60,"v":32.9},{"s":4,"t":70,"v":33.2},{"s":4,"t":80,"v":33.0},{"s":4,"t":90,"v":33.4},{"s":4,"t":100,"v":33.1},{"s":4,"t":110,"v":33.5},{"s":4,"t":120,"v":33.3},{"s":4,"t":130,"v":33.7},{"s":4,"t":140,"v":33.2},{"s":4,"t":150,"v":33.6},{"s":4,"t":160,"v":33.4},{"s":4,"t":170,"v":33.8},{"s":4,"t":180,"v":33.3},{"s":4,"t":190,"v":33.7},{"s":4,"t":200,"v":33.5},{"s":4,"t":210,"v":33.2},{"s":4,"t":220,"v":33.6},{"s":4,"t":230,"v":33.4},{"s":4,"t":240,"v":33.8},{"s":4,"t":250,"v":33.5},{"s":4,"t":260,"v":33.9},{"s":4,"t":270,"v":33.6},{"s":4,"t":280,"v":34.0},{"s":4,"t":290,"v":33.7},{"s":4,"t":300,"v":33.5},{"s":4,"t":310,"v":27.9},{"s":4,"t":320,"v":25.2},{"s":4,"t":330,"v":24.3},{"s":4,"t":340,"v":23.7},{"s":4,"t":350,"v":23.4},{"s":4,"t":360,"v":23.2},
{"s":6,"t":0,"v":22.5},{"s":6,"t":10,"v":26.8},{"s":6,"t":20,"v":29.5},{"s":6,"t":30,"v":31.0},{"s":6,"t":40,"v":31.9},{"s":6,"t":50,"v":32.4},{"s":6,"t":60,"v":32.7},{"s":6,"t":70,"v":33.1},{"s":6,"t":80,"v":33.4},{"s":6,"t":90,"v":33.0},{"s":6,"t":100,"v":33.6},{"s":6,"t":110,"v":33.3},{"s":6,"t":120,"v":33.8},{"s":6,"t":130,"v":33.5},{"s":6,"t":140,"v":33.9},{"s":6,"t":150,"v":33.6},{"s":6,"t":160,"v":34.0},{"s":6,"t":170,"v":33.7},{"s":6,"t":180,"v":34.1},{"s":6,"t":190,"v":33.8},{"s":6,"t":200,"v":34.0},{"s":6,"t":210,"v":33.6},{"s":6,"t":220,"v":34.1},{"s":6,"t":230,"v":33.8},{"s":6,"t":240,"v":34.2},{"s":6,"t":250,"v":33.9},{"s":6,"t":260,"v":34.0},{"s":6,"t":270,"v":33.7},{"s":6,"t":280,"v":34.3},{"s":6,"t":290,"v":34.4},{"s":6,"t":300,"v":33.9},{"s":6,"t":310,"v":28.6},{"s":6,"t":320,"v":25.8},{"s":6,"t":330,"v":24.7},{"s":6,"t":340,"v":24.0},{"s":6,"t":350,"v":23.6},{"s":6,"t":360,"v":23.4},
{"s":8,"t":0,"v":22.4},{"s":8,"t":10,"v":27.5},{"s":8,"t":20,"v":30.1},{"s":8,"t":30,"v":31.3},{"s":8,"t":40,"v":32.0},{"s":8,"t":50,"v":32.6},{"s":8,"t":60,"v":32.9},{"s":8,"t":70,"v":32.6},{"s":8,"t":80,"v":33.0},{"s":8,"t":90,"v":32.7},{"s":8,"t":100,"v":33.2},{"s":8,"t":110,"v":32.9},{"s":8,"t":120,"v":33.4},{"s":8,"t":130,"v":33.1},{"s":8,"t":140,"v":32.8},{"s":8,"t":150,"v":33.3},{"s":8,"t":160,"v":33.0},{"s":8,"t":170,"v":33.5},{"s":8,"t":180,"v":33.2},{"s":8,"t":190,"v":34.0},{"s":8,"t":200,"v":33.6},{"s":8,"t":210,"v":33.3},{"s":8,"t":220,"v":33.8},{"s":8,"t":230,"v":33.4},{"s":8,"t":240,"v":33.1},{"s":8,"t":250,"v":33.6},{"s":8,"t":260,"v":33.3},{"s":8,"t":270,"v":33.8},{"s":8,"t":280,"v":33.5},{"s":8,"t":290,"v":33.9},{"s":8,"t":300,"v":33.6},{"s":8,"t":310,"v":28.2},{"s":8,"t":320,"v":25.5},{"s":8,"t":330,"v":24.4},{"s":8,"t":340,"v":23.8},{"s":8,"t":350,"v":23.4},{"s":8,"t":360,"v":23.3},
{"s":10,"t":0,"v":22.5},{"s":10,"t":10,"v":27.2},{"s":10,"t":20,"v":30.0},{"s":10,"t":30,"v":31.5},{"s":10,"t":40,"v":32.4},{"s":10,"t":50,"v":33.0},{"s":10,"t":60,"v":32.7},{"s":10,"t":70,"v":33.1},{"s":10,"t":80,"v":32.8},{"s":10,"t":90,"v":32.4},{"s":10,"t":100,"v":32.9},{"s":10,"t":110,"v":33.2},{"s":10,"t":120,"v":32.8},{"s":10,"t":130,"v":33.3},{"s":10,"t":140,"v":32.9},{"s":10,"t":150,"v":33.4},{"s":10,"t":160,"v":33.0},{"s":10,"t":170,"v":33.5},{"s":10,"t":180,"v":33.1},{"s":10,"t":190,"v":33.6},{"s":10,"t":200,"v":33.2},{"s":10,"t":210,"v":33.7},{"s":10,"t":220,"v":33.3},{"s":10,"t":230,"v":33.8},{"s":10,"t":240,"v":33.4},{"s":10,"t":250,"v":33.0},{"s":10,"t":260,"v":33.5},{"s":10,"t":270,"v":33.9},{"s":10,"t":280,"v":33.6},{"s":10,"t":290,"v":34.2},{"s":10,"t":300,"v":33.8},{"s":10,"t":310,"v":28.4},{"s":10,"t":320,"v":25.6},{"s":10,"t":330,"v":24.6},{"s":10,"t":340,"v":23.9},{"s":10,"t":350,"v":23.5},{"s":10,"t":360,"v":23.3},
{"s":12,"t":0,"v":22.3},{"s":12,"t":10,"v":27.6},{"s":12,"t":20,"v":30.4},{"s":12,"t":30,"v":31.6},{"s":12,"t":40,"v":32.3},{"s":12,"t":50,"v":32.8},{"s":12,"t":60,"v":33.2},{"s":12,"t":70,"v":33.5},{"s":12,"t":80,"v":33.3},{"s":12,"t":90,"v":33.7},{"s":12,"t":100,"v":33.4},{"s":12,"t":110,"v":33.9},{"s":12,"t":120,"v":33.6},{"s":12,"t":130,"v":34.0},{"s":12,"t":140,"v":31.7},{"s":12,"t":150,"v":33.5},{"s":12,"t":160,"v":33.9},{"s":12,"t":170,"v":33.6},{"s":12,"t":180,"v":34.0},{"s":12,"t":190,"v":33.7},{"s":12,"t":200,"v":34.1},{"s":12,"t":210,"v":33.8},{"s":12,"t":220,"v":34.2},{"s":12,"t":230,"v":33.9},{"s":12,"t":240,"v":34.3},{"s":12,"t":250,"v":34.0},{"s":12,"t":260,"v":34.4},{"s":12,"t":270,"v":34.8},{"s":12,"t":280,"v":34.5},{"s":12,"t":290,"v":34.1},{"s":12,"t":300,"v":33.8},{"s":12,"t":310,"v":27.5},{"s":12,"t":320,"v":25.0},{"s":12,"t":330,"v":24.1},{"s":12,"t":340,"v":23.6},{"s":12,"t":350,"v":23.3},{"s":12,"t":360,"v":23.2},
{"s":14,"t":0,"v":22.6},{"s":14,"t":10,"v":26.5},{"s":14,"t":20,"v":29.2},{"s":14,"t":30,"v":30.5},{"s":14,"t":40,"v":31.3},{"s":14,"t":50,"v":31.9},{"s":14,"t":60,"v":32.3},{"s":14,"t":70,"v":32.6},{"s":14,"t":80,"v":32.4},{"s":14,"t":90,"v":32.8},{"s":14,"t":100,"v":32.5},{"s":14,"t":110,"v":32.9},{"s":14,"t":120,"v":32.6},{"s":14,"t":130,"v":33.0},{"s":14,"t":140,"v":32.7},{"s":14,"t":150,"v":32.3},{"s":14,"t":160,"v":32.8},{"s":14,"t":170,"v":33.1},{"s":14,"t":180,"v":32.7},{"s":14,"t":190,"v":33.0},{"s":14,"t":200,"v":32.6},{"s":14,"t":210,"v":32.9},{"s":14,"t":220,"v":33.2},{"s":14,"t":230,"v":32.8},{"s":14,"t":240,"v":33.1},{"s":14,"t":250,"v":32.7},{"s":14,"t":260,"v":32.3},{"s":14,"t":270,"v":32.0},{"s":14,"t":280,"v":32.4},{"s":14,"t":290,"v":33.3},{"s":14,"t":300,"v":33.6},{"s":14,"t":310,"v":28.3},{"s":14,"t":320,"v":25.5},{"s":14,"t":330,"v":24.5},{"s":14,"t":340,"v":23.9},{"s":14,"t":350,"v":23.5},{"s":14,"t":360,"v":23.3},
{"s":16,"t":0,"v":22.6},{"s":16,"t":10,"v":28.3},{"s":16,"t":20,"v":30.5},{"s":16,"t":30,"v":31.6},{"s":16,"t":40,"v":32.2},{"s":16,"t":50,"v":32.6},{"s":16,"t":60,"v":32.4},{"s":16,"t":70,"v":32.8},{"s":16,"t":80,"v":33.1},{"s":16,"t":90,"v":32.7},{"s":16,"t":100,"v":33.3},{"s":16,"t":110,"v":33.0},{"s":16,"t":120,"v":33.5},{"s":16,"t":130,"v":33.2},{"s":16,"t":140,"v":33.7},{"s":16,"t":150,"v":33.4},{"s":16,"t":160,"v":33.9},{"s":16,"t":170,"v":33.5},{"s":16,"t":180,"v":34.1},{"s":16,"t":190,"v":33.8},{"s":16,"t":200,"v":34.2},{"s":16,"t":210,"v":33.7},{"s":16,"t":220,"v":34.5},{"s":16,"t":230,"v":34.0},{"s":16,"t":240,"v":33.7},{"s":16,"t":250,"v":34.1},{"s":16,"t":260,"v":33.8},{"s":16,"t":270,"v":34.2},{"s":16,"t":280,"v":33.9},{"s":16,"t":290,"v":34.0},{"s":16,"t":300,"v":33.7},{"s":16,"t":310,"v":28.6},{"s":16,"t":320,"v":25.7},{"s":16,"t":330,"v":24.6},{"s":16,"t":340,"v":23.9},{"s":16,"t":350,"v":23.5},{"s":16,"t":360,"v":23.3},
{"s":18,"t":0,"v":22.4},{"s":18,"t":10,"v":27.1},{"s":18,"t":20,"v":30.2},{"s":18,"t":30,"v":31.7},{"s":18,"t":40,"v":32.5},{"s":18,"t":50,"v":32.9},{"s":18,"t":60,"v":33.2},{"s":18,"t":70,"v":32.9},{"s":18,"t":80,"v":33.3},{"s":18,"t":90,"v":33.6},{"s":18,"t":100,"v":33.4},{"s":18,"t":110,"v":34.1},{"s":18,"t":120,"v":33.7},{"s":18,"t":130,"v":33.5},{"s":18,"t":140,"v":33.9},{"s":18,"t":150,"v":33.6},{"s":18,"t":160,"v":33.3},{"s":18,"t":170,"v":33.7},{"s":18,"t":180,"v":33.4},{"s":18,"t":190,"v":33.8},{"s":18,"t":200,"v":33.5},{"s":18,"t":210,"v":33.2},{"s":18,"t":220,"v":33.6},{"s":18,"t":230,"v":33.3},{"s":18,"t":240,"v":32.9},{"s":18,"t":250,"v":33.4},{"s":18,"t":260,"v":33.1},{"s":18,"t":270,"v":33.6},{"s":18,"t":280,"v":33.3},{"s":18,"t":290,"v":33.2},{"s":18,"t":300,"v":33.4},{"s":18,"t":310,"v":28.8},{"s":18,"t":320,"v":25.9},{"s":18,"t":330,"v":24.8},{"s":18,"t":340,"v":24.1},{"s":18,"t":350,"v":23.6},{"s":18,"t":360,"v":23.3},
{"s":20,"t":0,"v":22.2},{"s":20,"t":10,"v":26.9},{"s":20,"t":20,"v":29.7},{"s":20,"t":30,"v":31.0},{"s":20,"t":40,"v":31.8},{"s":20,"t":50,"v":32.3},{"s":20,"t":60,"v":32.6},{"s":20,"t":70,"v":32.9},{"s":20,"t":80,"v":32.7},{"s":20,"t":90,"v":33.0},{"s":20,"t":100,"v":32.8},{"s":20,"t":110,"v":33.1},{"s":20,"t":120,"v":32.9},{"s":20,"t":130,"v":33.2},{"s":20,"t":140,"v":32.6},{"s":20,"t":150,"v":32.9},{"s":20,"t":160,"v":33.1},{"s":20,"t":170,"v":32.8},{"s":20,"t":180,"v":32.5},{"s":20,"t":190,"v":32.9},{"s":20,"t":200,"v":33.0},{"s":20,"t":210,"v":32.8},{"s":20,"t":220,"v":33.1},{"s":20,"t":230,"v":32.9},{"s":20,"t":240,"v":33.2},{"s":20,"t":250,"v":33.0},{"s":20,"t":260,"v":33.3},{"s":20,"t":270,"v":33.1},{"s":20,"t":280,"v":33.4},{"s":20,"t":290,"v":33.2},{"s":20,"t":300,"v":33.0},{"s":20,"t":310,"v":27.8},{"s":20,"t":320,"v":25.3},{"s":20,"t":330,"v":24.3},{"s":20,"t":340,"v":23.7},{"s":20,"t":350,"v":23.3},{"s":20,"t":360,"v":23.2}
],
"d":[
{"t":0,"v":20},{"t":1,"v":185},{"t":2,"v":197},{"t":3,"v":190},{"t":4,"v":198},{"t":5,"v":193},{"t":6,"v":191},{"t":7,"v":196},{"t":8,"v":193},{"t":9,"v":198},{"t":10,"v":195},{"t":11,"v":200},{"t":12,"v":197},{"t":13,"v":194},{"t":14,"v":199},{"t":15,"v":195},{"t":16,"v":197},{"t":17,"v":193},{"t":18,"v":196},{"t":19,"v":194},{"t":20,"v":198},{"t":21,"v":195},{"t":22,"v":189},{"t":23,"v":197},{"t":24,"v":193},{"t":25,"v":199},{"t":26,"v":194},{"t":27,"v":200},{"t":28,"v":198},{"t":29,"v":197},{"t":30,"v":199},{"t":31,"v":196},{"t":32,"v":198},{"t":33,"v":195},{"t":34,"v":197},{"t":35,"v":194},{"t":36,"v":196},{"t":37,"v":192},{"t":38,"v":196},{"t":39,"v":194},{"t":40,"v":197},{"t":41,"v":193},{"t":42,"v":196},{"t":43,"v":192},{"t":44,"v":195},{"t":45,"v":193},{"t":46,"v":197},{"t":47,"v":194},{"t":48,"v":198},{"t":49,"v":193},{"t":50,"v":197},{"t":51,"v":195},{"t":52,"v":199},{"t":53,"v":194},{"t":54,"v":196},{"t":55,"v":192},{"t":56,"v":186},{"t":57,"v":194},{"t":58,"v":191},{"t":59,"v":196},{"t":60,"v":193},{"t":61,"v":197},{"t":62,"v":192},{"t":63,"v":195},{"t":64,"v":190},{"t":65,"v":194},{"t":66,"v":191},{"t":67,"v":196},{"t":68,"v":192},{"t":69,"v":189},{"t":70,"v":193},{"t":71,"v":190},{"t":72,"v":194},{"t":73,"v":191},{"t":74,"v":196},{"t":75,"v":192},{"t":76,"v":194},{"t":77,"v":190},{"t":78,"v":193},{"t":79,"v":189},{"t":80,"v":192},{"t":81,"v":188},{"t":82,"v":191},{"t":83,"v":187},{"t":84,"v":192},{"t":85,"v":196},{"t":86,"v":199},{"t":87,"v":193},{"t":88,"v":197},{"t":89,"v":188},{"t":90,"v":192}
],
"e":[
{"t":0,"v":23},{"t":1,"v":23},{"t":2,"v":57},{"t":3,"v":57},{"t":4,"v":58},{"t":5,"v":53},{"t":6,"v":53},{"t":7,"v":57},{"t":8,"v":57},{"t":9,"v":56},{"t":10,"v":52},{"t":11,"v":55},{"t":12,"v":57},{"t":13,"v":48},{"t":14,"v":51},{"t":15,"v":56},{"t":16,"v":51},{"t":17,"v":52},{"t":18,"v":52},{"t":19,"v":53},{"t":20,"v":55},{"t":21,"v":57},{"t":22,"v":57},{"t":23,"v":55},{"t":24,"v":51},{"t":25,"v":61},{"t":26,"v":55},{"t":27,"v":50},{"t":28,"v":54},{"t":29,"v":56},{"t":30,"v":54},{"t":31,"v":53},{"t":32,"v":55},{"t":33,"v":60},{"t":34,"v":59},{"t":35,"v":55},{"t":36,"v":58},{"t":37,"v":50},{"t":38,"v":53},{"t":39,"v":60},{"t":40,"v":54},{"t":41,"v":55},{"t":42,"v":54},{"t":43,"v":55},{"t":44,"v":57},{"t":45,"v":61},{"t":46,"v":59},{"t":47,"v":60},{"t":48,"v":57},{"t":49,"v":56},{"t":50,"v":58},{"t":51,"v":57},{"t":52,"v":57},{"t":53,"v":58},{"t":54,"v":57},{"t":55,"v":58},{"t":56,"v":58},{"t":57,"v":62},{"t":58,"v":57},{"t":59,"v":56},{"t":60,"v":60},{"t":61,"v":55},{"t":62,"v":61},{"t":63,"v":58},{"t":64,"v":57},{"t":65,"v":56},{"t":66,"v":59},{"t":67,"v":63},{"t":68,"v":55},{"t":69,"v":59},{"t":70,"v":58},{"t":71,"v":52},{"t":72,"v":60},{"t":73,"v":51},{"t":74,"v":58},{"t":75,"v":55},{"t":76,"v":59},{"t":77,"v":52},{"t":78,"v":59},{"t":79,"v":56},{"t":80,"v":57},{"t":81,"v":59},{"t":82,"v":58},{"t":83,"v":55},{"t":84,"v":63},{"t":85,"v":56},{"t":86,"v":59},{"t":87,"v":55},{"t":88,"v":58},{"t":89,"v":62},{"t":90,"v":57}
],
"f":[
{"t":0,"v":22},{"t":1,"v":38},{"t":2,"v":38},{"t":3,"v":39},{"t":4,"v":42.5},{"t":5,"v":42.5},{"t":6,"v":43},{"t":7,"v":42},{"t":8,"v":44},{"t":9,"v":43},{"t":10,"v":45},{"t":11,"v":43},{"t":12,"v":44},{"t":13,"v":42.5},{"t":14,"v":45.5},{"t":15,"v":43},{"t":16,"v":42},{"t":17,"v":44},{"t":18,"v":43},{"t":19,"v":43.5},{"t":20,"v":44},{"t":21,"v":43},{"t":22,"v":44.5},{"t":23,"v":47.5},{"t":24,"v":43.5},{"t":25,"v":44},{"t":26,"v":43},{"t":27,"v":44.5},{"t":28,"v":44},{"t":29,"v":44.5},{"t":30,"v":43.5},{"t":31,"v":45.5},{"t":32,"v":44},{"t":33,"v":42.5},{"t":34,"v":44},{"t":35,"v":43},{"t":36,"v":45},{"t":37,"v":44.5},{"t":38,"v":44},{"t":39,"v":44.5},{"t":40,"v":44},{"t":41,"v":42.5},{"t":42,"v":44},{"t":43,"v":43.5},{"t":44,"v":44},{"t":45,"v":45.5},{"t":46,"v":43.5},{"t":47,"v":44.5},{"t":48,"v":45},{"t":49,"v":43.5},{"t":50,"v":44.5},{"t":51,"v":43.5},{"t":52,"v":45},{"t":53,"v":44},{"t":54,"v":44.5},{"t":55,"v":45.5},{"t":56,"v":45.5},{"t":57,"v":45},{"t":58,"v":44},{"t":59,"v":43.5},{"t":60,"v":44},{"t":61,"v":44.5},{"t":62,"v":45},{"t":63,"v":44.5},{"t":64,"v":46},{"t":65,"v":43},{"t":66,"v":45},{"t":67,"v":43},{"t":68,"v":44.5},{"t":69,"v":43.5},{"t":70,"v":44.5},{"t":71,"v":43},{"t":72,"v":44},{"t":73,"v":42.5},{"t":74,"v":44.5},{"t":75,"v":43},{"t":76,"v":44},{"t":77,"v":43.5},{"t":78,"v":43},{"t":79,"v":42.5},{"t":80,"v":44},{"t":81,"v":43.5},{"t":82,"v":43.5},{"t":83,"v":43},{"t":84,"v":43.5},{"t":85,"v":43},{"t":86,"v":42.5},{"t":87,"v":45.5},{"t":88,"v":42},{"t":89,"v":43.5},{"t":90,"v":44}
]
},
"center":true,
"spacing":18,
"resolve":{"scale":{"color":"independent","shape":"independent","stroke":"independent","strokeDash":"independent"},"legend":{"color":"independent","stroke":"independent","strokeDash":"independent"}},
"vconcat":[
{"hconcat":[
{"data":{"name":"a"},"width":177,"height":137,"title":{"text":"a)","dx":-14,"offset":-9},
"encoding":{"x":{"field":"t","type":"quantitative","scale":{"domain":[0,480],"nice":false},"axis":{"title":"Time/S","values":[0,50,100,150,200,250,300,350,400,450]}},"y":{"field":"v","type":"quantitative","scale":{"domain":[3,279],"nice":false,"zero":false},"axis":{"title":"Temperature/°C","values":[50,100,150,200,250]}}},
"layer":[
{"mark":{"type":"line","strokeWidth":1.2,"color":"black"},"encoding":{"stroke":{"field":"s","type":"nominal","scale":{"domain":[1,2,4,6,8,10,12,14,16,18,20],"range":["#000000","#FF2020","#3A4FC8","#1A8C80","#C84FC8","#8A8A20","#1E1E7A","#7A1E1E","#FF1A8C","#1E8A3A","#3C3CB4"]},"legend":{"orient":"top-right","offset":2,"title":null,"padding":2.5,"symbolSize":12,"symbolOpacity":1,"symbolStrokeWidth":0.4,"labelFontSize":6.5,"labelFontWeight":"bold","labelOffset":5,"rowPadding":0}},"strokeDash":{"datum":"Graphene Glass","type":"nominal","legend":{"orient":"none","legendX":11,"legendY":6,"title":null,"padding":2,"symbolType":"stroke","symbolStrokeColor":"black","symbolStrokeWidth":1.3,"symbolSize":50,"labelFontSize":8.5,"labelOffset":1}}}},
{"mark":{"type":"point","filled":true,"size":11,"opacity":1},"encoding":{"color":{"field":"s","type":"nominal","scale":{"domain":[1,2,4,6,8,10,12,14,16,18,20],"range":["#000000","#FF2020","#3A4FC8","#1A8C80","#C84FC8","#8A8A20","#1E1E7A","#7A1E1E","#FF1A8C","#1E8A3A","#3C3CB4"]},"legend":{"orient":"top-right","offset":2,"title":null,"padding":2.5,"symbolSize":12,"symbolOpacity":1,"symbolStrokeWidth":0.4,"labelFontSize":6.5,"labelFontWeight":"bold","labelOffset":5,"rowPadding":0}},"shape":{"field":"s","type":"nominal","scale":{"domain":[1,2,4,6,8,10,12,14,16,18,20],"range":["square","circle","triangle-up","triangle-down","diamond","triangle-left","triangle-right","M0,-1L0.87,-0.5L0.87,0.5L0,1L-0.87,0.5L-0.87,-0.5Z","M0,-1L0.22,-0.3L0.95,-0.3L0.36,0.12L0.59,0.81L0,0.38L-0.59,0.81L-0.36,0.12L-0.95,-0.3L-0.22,-0.3Z","M0,-1L0.95,-0.31L0.59,0.81L-0.59,0.81L-0.95,-0.31Z","circle"]},"legend":null}}},
{"transform":[{"filter":"datum.s==20"}],"mark":{"type":"point","filled":true,"size":2.5,"color":"white","opacity":1},"encoding":{}}
]},
{"data":{"name":"b"},"width":177,"height":136,"title":{"text":"b)","dx":-27,"offset":-9},
"encoding":{"x":{"field":"t","type":"quantitative","scale":{"domain":[0,460],"nice":false},"axis":{"title":"Time/S","values":[0,50,100,150,200,250,300,350,400,450]}},"y":{"field":"v","type":"quantitative","scale":{"domain":[15,80],"nice":false,"zero":false},"axis":{"title":"Temperature/°C","values":[20,30,40,50,60,70,80]}}},
"layer":[
{"mark":{"type":"line","strokeWidth":1.2,"color":"black"},"encoding":{"stroke":{"field":"s","type":"nominal","scale":{"domain":[1,2,4,6,8,10,12,14,16,18,20],"range":["#000000","#FF2020","#3A4FC8","#1A8C80","#C84FC8","#8A8A20","#1E1E7A","#7A1E1E","#FF1A8C","#1E8A3A","#3C3CB4"]},"legend":{"orient":"top-right","offset":3,"title":null,"padding":2.5,"symbolSize":12,"symbolOpacity":1,"symbolStrokeWidth":0.4,"labelFontSize":6.5,"labelFontWeight":"bold","labelOffset":5,"rowPadding":0.3}},"strokeDash":{"datum":"PET-based graphene","type":"nominal","legend":{"orient":"none","legendX":9,"legendY":8,"title":null,"padding":2,"symbolType":"stroke","symbolStrokeColor":"black","symbolStrokeWidth":1.3,"symbolSize":50,"labelFontSize":8.5,"labelOffset":1}}}},
{"mark":{"type":"point","filled":true,"size":11,"opacity":1},"encoding":{"color":{"field":"s","type":"nominal","scale":{"domain":[1,2,4,6,8,10,12,14,16,18,20],"range":["#000000","#FF2020","#3A4FC8","#1A8C80","#C84FC8","#8A8A20","#1E1E7A","#7A1E1E","#FF1A8C","#1E8A3A","#3C3CB4"]},"legend":{"orient":"top-right","offset":3,"title":null,"padding":2.5,"symbolSize":12,"symbolOpacity":1,"symbolStrokeWidth":0.4,"labelFontSize":6.5,"labelFontWeight":"bold","labelOffset":5,"rowPadding":0.3}},"shape":{"field":"s","type":"nominal","scale":{"domain":[1,2,4,6,8,10,12,14,16,18,20],"range":["square","circle","triangle-up","triangle-down","diamond","triangle-left","triangle-right","M0,-1L0.87,-0.5L0.87,0.5L0,1L-0.87,0.5L-0.87,-0.5Z","M0,-1L0.22,-0.3L0.95,-0.3L0.36,0.12L0.59,0.81L0,0.38L-0.59,0.81L-0.36,0.12L-0.95,-0.3L-0.22,-0.3Z","M0,-1L0.95,-0.31L0.59,0.81L-0.59,0.81L-0.95,-0.31Z","circle"]},"legend":null}}},
{"transform":[{"filter":"datum.s==20"}],"mark":{"type":"point","filled":true,"size":2.5,"color":"white","opacity":1},"encoding":{}}
]},
{"data":{"name":"c"},"width":178,"height":138,"title":{"text":"c)","dx":-25,"offset":-9},
"encoding":{"x":{"field":"t","type":"quantitative","scale":{"domain":[0,425],"nice":false},"axis":{"title":"Time/S","values":[0,50,100,150,200,250,300,350,400]}},"y":{"field":"v","type":"quantitative","scale":{"domain":[20,40],"nice":false,"zero":false},"axis":{"title":"Temperature/°C","values":[20,25,30,35,40]}}},
"layer":[
{"mark":{"type":"line","strokeWidth":1.2,"color":"black"},"encoding":{"stroke":{"field":"s","type":"nominal","scale":{"domain":[1,2,4,6,8,10,12,14,16,18,20],"range":["#000000","#FF2020","#3A4FC8","#1A8C80","#C84FC8","#8A8A20","#1E1E7A","#7A1E1E","#FF1A8C","#1E8A3A","#3C3CB4"]},"legend":{"orient":"top-right","offset":4,"title":null,"padding":2.5,"symbolSize":12,"symbolOpacity":1,"symbolStrokeWidth":0.4,"labelFontSize":6.5,"labelFontWeight":"bold","labelOffset":5,"rowPadding":1}},"strokeDash":{"datum":"Silicon-based graphene","type":"nominal","legend":{"orient":"none","legendX":10,"legendY":6,"title":null,"padding":2,"symbolType":"stroke","symbolStrokeColor":"black","symbolStrokeWidth":1.3,"symbolSize":50,"labelFontSize":8.5,"labelOffset":1}}}},
{"mark":{"type":"point","filled":true,"size":11,"opacity":1},"encoding":{"color":{"field":"s","type":"nominal","scale":{"domain":[1,2,4,6,8,10,12,14,16,18,20],"range":["#000000","#FF2020","#3A4FC8","#1A8C80","#C84FC8","#8A8A20","#1E1E7A","#7A1E1E","#FF1A8C","#1E8A3A","#3C3CB4"]},"legend":{"orient":"top-right","offset":4,"title":null,"padding":2.5,"symbolSize":12,"symbolOpacity":1,"symbolStrokeWidth":0.4,"labelFontSize":6.5,"labelFontWeight":"bold","labelOffset":5,"rowPadding":1}},"shape":{"field":"s","type":"nominal","scale":{"domain":[1,2,4,6,8,10,12,14,16,18,20],"range":["square","circle","triangle-up","triangle-down","diamond","triangle-left","triangle-right","M0,-1L0.87,-0.5L0.87,0.5L0,1L-0.87,0.5L-0.87,-0.5Z","M0,-1L0.22,-0.3L0.95,-0.3L0.36,0.12L0.59,0.81L0,0.38L-0.59,0.81L-0.36,0.12L-0.95,-0.3L-0.22,-0.3Z","M0,-1L0.95,-0.31L0.59,0.81L-0.59,0.81L-0.95,-0.31Z","circle"]},"legend":null}}},
{"transform":[{"filter":"datum.s==20"}],"mark":{"type":"point","filled":true,"size":2.5,"color":"white","opacity":1},"encoding":{}}
]}
],"spacing":82,"bounds":"flush","resolve":{"scale":{"color":"independent","shape":"independent","stroke":"independent","strokeDash":"independent"},"legend":{"color":"independent","stroke":"independent","strokeDash":"independent"}}},
{"hconcat":[
{"data":{"name":"d"},"width":177,"height":139,"title":{"text":"d)","dx":-25,"offset":-5},
"encoding":{"x":{"field":"t","type":"quantitative","scale":{"domain":[0,90],"nice":false},"axis":{"title":"Time/Min","values":[0,10,20,30,40,50,60,70,80,90]}},"y":{"field":"v","type":"quantitative","scale":{"domain":[0,293],"nice":false,"zero":false},"axis":{"title":"Temperature/°C","values":[0,50,100,150,200,250]}}},
"layer":[
{"mark":{"type":"line","strokeWidth":1.8,"color":"black"},"encoding":{"strokeDash":{"datum":"Graphene Glass","type":"nominal","legend":{"orient":"none","legendX":10,"legendY":11,"title":null,"padding":2,"symbolType":"stroke","symbolStrokeColor":"black","symbolStrokeWidth":1.3,"symbolSize":50,"labelFontSize":8.5,"labelOffset":1}}}},
{"mark":{"type":"point","shape":"square","filled":true,"size":10,"color":"black","opacity":1},"encoding":{}}
]},
{"data":{"name":"e"},"width":168,"height":136,"title":{"text":"e)","dx":-25,"offset":-5},
"encoding":{"x":{"field":"t","type":"quantitative","scale":{"domain":[0,90],"nice":false},"axis":{"title":"Time/Min","values":[0,10,20,30,40,50,60,70,80,90]}},"y":{"field":"v","type":"quantitative","scale":{"domain":[14.5,80],"nice":false,"zero":false},"axis":{"title":"Temperature/°C","values":[20,30,40,50,60,70,80]}}},
"layer":[
{"mark":{"type":"line","strokeWidth":1.8,"color":"black"},"encoding":{"strokeDash":{"datum":"PET-based graphene","type":"nominal","legend":{"orient":"none","legendX":10,"legendY":9,"title":null,"padding":2,"symbolType":"stroke","symbolStrokeColor":"black","symbolStrokeWidth":1.3,"symbolSize":50,"labelFontSize":8.5,"labelOffset":1}}}},
{"mark":{"type":"point","shape":"square","filled":true,"size":10,"color":"black","opacity":1},"encoding":{}}
]},
{"data":{"name":"f"},"width":177,"height":137,"title":{"text":"f)","dx":-25,"offset":-5},
"encoding":{"x":{"field":"t","type":"quantitative","scale":{"domain":[0,90],"nice":false},"axis":{"title":"Time/Min","values":[0,10,20,30,40,50,60,70,80,90]}},"y":{"field":"v","type":"quantitative","scale":{"domain":[20,60],"nice":false,"zero":false},"axis":{"title":"Temperature/°C","values":[20,30,40,50,60]}}},
"layer":[
{"mark":{"type":"line","strokeWidth":1.8,"color":"black"},"encoding":{"strokeDash":{"datum":"Silicon-based graphene","type":"nominal","legend":{"orient":"none","legendX":11,"legendY":8,"title":null,"padding":2,"symbolType":"stroke","symbolStrokeColor":"black","symbolStrokeWidth":1.3,"symbolSize":50,"labelFontSize":8.5,"labelOffset":1}}}},
{"mark":{"type":"point","shape":"square","filled":true,"size":10,"color":"black","opacity":1},"encoding":{}}
]}
],"spacing":80,"bounds":"flush","resolve":{"scale":{"strokeDash":"independent"},"legend":{"strokeDash":"independent"}}}
]
}
